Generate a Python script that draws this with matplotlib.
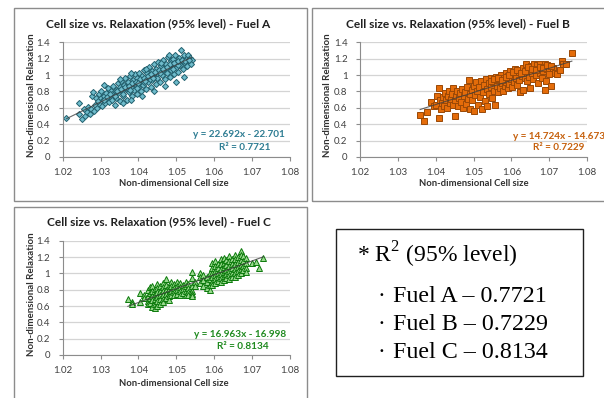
import matplotlib
matplotlib.use("Agg")
import matplotlib.pyplot as plt
import numpy as np
from matplotlib.patches import Rectangle

plt.rcParams.update({"font.family": ["Lato", "DejaVu Sans"],
                     "mathtext.fontset": "custom",
                     "mathtext.rm": "Liberation Serif"})

# ---------------------------------------------------------------------------
# Data
# ---------------------------------------------------------------------------
a_x = [1.0210, 1.0242, 1.0243, 1.0250, 1.0255, 1.0260, 1.0265, 1.0268, 1.0272, 1.0275,
       1.0278, 1.0280, 1.0282, 1.0285, 1.0288, 1.0290, 1.0293, 1.0295, 1.0298, 1.0300,
       1.0302, 1.0305, 1.0307, 1.0310, 1.0312, 1.0315, 1.0318, 1.0320, 1.0322, 1.0325,
       1.0327, 1.0330, 1.0332, 1.0335, 1.0337, 1.0340, 1.0342, 1.0345, 1.0347, 1.0350,
       1.0352, 1.0355, 1.0357, 1.0360, 1.0362, 1.0365, 1.0367, 1.0370, 1.0372, 1.0375,
       1.0377, 1.0380, 1.0382, 1.0385, 1.0387, 1.0390, 1.0392, 1.0395, 1.0397, 1.0400,
       1.0402, 1.0405, 1.0407, 1.0410, 1.0412, 1.0415, 1.0417, 1.0420, 1.0422, 1.0425,
       1.0427, 1.0430, 1.0432, 1.0435, 1.0437, 1.0440, 1.0442, 1.0445, 1.0447, 1.0450,
       1.0452, 1.0455, 1.0457, 1.0460, 1.0462, 1.0465, 1.0467, 1.0470, 1.0472, 1.0475,
       1.0477, 1.0480, 1.0482, 1.0485, 1.0487, 1.0490, 1.0492, 1.0495, 1.0497, 1.0500,
       1.0502, 1.0505, 1.0507, 1.0510, 1.0512, 1.0515, 1.0517, 1.0520, 1.0522, 1.0525,
       1.0528, 1.0530, 1.0533, 1.0536, 1.0540, 1.0538, 1.0340, 1.0360, 1.0380, 1.0410,
       1.0440, 1.0470, 1.0500, 1.0520, 1.0310, 1.0350, 1.0380, 1.0420, 1.0460, 1.0480,
       1.0330, 1.0370, 1.0400, 1.0430, 1.0450, 1.0490, 1.0505, 1.0395, 1.0415, 1.0435,
       1.0316, 1.0326, 1.0344, 1.0353, 1.0364, 1.0374, 1.0384, 1.0394, 1.0404, 1.0414,
       1.0424, 1.0434, 1.0444, 1.0454, 1.0464, 1.0474, 1.0484, 1.0494, 1.0504, 1.0514,
       1.0524, 1.0534, 1.0308, 1.0338, 1.0358, 1.0378, 1.0398, 1.0418, 1.0438, 1.0458]
a_y = [0.48, 0.66, 0.53, 0.46, 0.58, 0.50, 0.55, 0.61, 0.52, 0.59,
       0.75, 0.79, 0.56, 0.63, 0.72, 0.60, 0.68, 0.77, 0.64, 0.72,
       0.80, 0.62, 0.69, 0.75, 0.66, 0.78, 0.71, 0.84, 0.67, 0.74,
       0.80, 0.70, 0.87, 0.76, 0.63, 0.82, 0.72, 0.90, 0.78, 0.85,
       0.68, 0.93, 0.80, 0.74, 0.88, 0.96, 0.83, 0.70, 0.91, 0.79,
       0.99, 0.86, 0.74, 0.94, 0.82, 1.01, 0.89, 0.77, 0.97, 0.86,
       1.03, 0.92, 0.80, 0.99, 0.88, 1.06, 0.95, 0.83, 1.02, 0.91,
       1.10, 0.98, 0.86, 1.05, 0.94, 1.13, 1.01, 0.89, 1.08, 0.97,
       1.16, 1.04, 0.92, 1.11, 1.00, 1.19, 1.07, 0.95, 1.14, 1.03,
       1.22, 1.10, 0.98, 1.17, 1.06, 1.20, 1.13, 1.01, 1.24, 1.09,
       1.16, 1.04, 1.21, 1.12, 1.30, 1.18, 1.08, 1.24, 1.15, 1.20,
       1.11, 1.25, 1.17, 1.21, 1.19, 1.14, 0.79, 0.66, 0.70, 0.75,
       0.80, 0.87, 0.92, 0.98, 0.88, 0.95, 1.02, 1.08, 1.15, 1.24,
       0.77, 0.84, 0.90, 0.95, 1.02, 1.08, 1.12, 0.84, 0.92, 0.99,
       0.73, 0.77, 0.81, 0.83, 0.85, 0.87, 0.90, 0.92, 0.95, 0.97,
       0.99, 1.01, 1.04, 1.06, 1.08, 1.10, 1.13, 1.15, 1.17, 1.19,
       1.17, 1.19, 0.70, 0.74, 0.77, 0.82, 0.90, 0.93, 0.97, 1.02]

b_x = [1.0359, 1.0369, 1.0378, 1.0388, 1.0395, 1.0400, 1.0403, 1.0410, 1.0410, 1.0412,
       1.0415, 1.0418, 1.0420, 1.0423, 1.0425, 1.0428, 1.0430, 1.0432, 1.0435, 1.0437,
       1.0440, 1.0442, 1.0445, 1.0447, 1.0450, 1.0452, 1.0455, 1.0457, 1.0460, 1.0462,
       1.0465, 1.0467, 1.0470, 1.0472, 1.0475, 1.0477, 1.0480, 1.0482, 1.0485, 1.0487,
       1.0490, 1.0492, 1.0495, 1.0497, 1.0500, 1.0502, 1.0505, 1.0507, 1.0510, 1.0512,
       1.0515, 1.0517, 1.0520, 1.0522, 1.0525, 1.0527, 1.0530, 1.0532, 1.0535, 1.0537,
       1.0540, 1.0542, 1.0545, 1.0547, 1.0550, 1.0552, 1.0555, 1.0558, 1.0560, 1.0562,
       1.0565, 1.0567, 1.0570, 1.0572, 1.0575, 1.0577, 1.0580, 1.0582, 1.0585, 1.0587,
       1.0590, 1.0592, 1.0595, 1.0597, 1.0600, 1.0602, 1.0605, 1.0607, 1.0610, 1.0612,
       1.0615, 1.0617, 1.0620, 1.0622, 1.0625, 1.0627, 1.0630, 1.0632, 1.0635, 1.0637,
       1.0640, 1.0642, 1.0645, 1.0647, 1.0650, 1.0652, 1.0655, 1.0657, 1.0660, 1.0662,
       1.0665, 1.0667, 1.0670, 1.0672, 1.0675, 1.0677, 1.0680, 1.0682, 1.0685, 1.0688,
       1.0690, 1.0692, 1.0695, 1.0700, 1.0705, 1.0710, 1.0715, 1.0720, 1.0728, 1.0733,
       1.0736, 1.0745, 1.0760, 1.0545, 1.0555, 1.0565, 1.0575, 1.0585, 1.0595, 1.0605,
       1.0615, 1.0625, 1.0635, 1.0645, 1.0655, 1.0665, 1.0675, 1.0685, 1.0695, 1.0705]
b_y = [0.51, 0.44, 0.55, 0.67, 0.62, 0.64, 0.75, 0.48, 0.84, 0.70,
       0.58, 0.66, 0.73, 0.62, 0.78, 0.69, 0.60, 0.74, 0.80, 0.66,
       0.71, 0.77, 0.63, 0.84, 0.69, 0.50, 0.75, 0.80, 0.62, 0.72,
       0.78, 0.67, 0.83, 0.60, 0.74, 0.79, 0.65, 0.86, 0.71, 0.94,
       0.77, 0.58, 0.82, 0.69, 0.87, 0.56, 0.76, 0.91, 0.81, 0.64,
       0.86, 0.73, 0.93, 0.59, 0.79, 0.88, 0.68, 0.95, 0.83, 0.62,
       0.90, 0.77, 0.97, 0.85, 0.72, 0.92, 0.81, 0.64, 0.98, 0.87,
       0.79, 0.95, 0.84, 1.00, 0.90, 0.81, 0.97, 0.87, 1.02, 0.92,
       0.84, 0.99, 0.89, 1.05, 0.95, 0.86, 1.01, 0.92, 1.08, 0.97,
       0.88, 1.04, 0.94, 0.79, 1.06, 0.99, 0.82, 1.09, 0.96, 1.02,
       1.13, 0.93, 1.07, 0.98, 0.84, 1.11, 1.03, 0.95, 1.14, 1.06,
       1.00, 1.12, 0.90, 1.08, 1.03, 1.13, 0.97, 1.10, 1.05, 0.82,
       1.13, 0.93, 1.08, 1.01, 0.87, 1.09, 1.03, 1.01, 1.06, 1.17,
       1.14, 1.13, 1.27, 0.93, 0.95, 0.97, 0.94, 0.98, 1.00, 1.04,
       1.06, 1.02, 1.05, 1.10, 1.08, 1.06, 1.10, 1.09, 1.12, 1.11]

# Fuel C data sits in vertical stacks at discrete cell sizes
c_cols = [1.0372, 1.0382, 1.0405, 1.0415, 1.0425, 1.0430, 1.0437, 1.0443, 1.0450, 1.0457,
          1.0465, 1.0472, 1.0480, 1.0487, 1.0495, 1.0502, 1.0510, 1.0518, 1.0525, 1.0532,
          1.0540, 1.0550, 1.0562, 1.0570, 1.0580, 1.0588, 1.0595, 1.0602, 1.0610, 1.0617,
          1.0625, 1.0632, 1.0640, 1.0647, 1.0655, 1.0662, 1.0670, 1.0677, 1.0685, 1.0700,
          1.0710, 1.0718, 1.0730]
c_stacks = [[0.68], [0.65, 0.63], [0.65, 0.76], [0.74, 0.70], [0.80, 0.72, 0.66, 0.62],
            [0.83, 0.76, 0.70, 0.64], [0.85, 0.78, 0.72, 0.67, 0.59], [0.81, 0.75, 0.69, 0.62, 0.58],
            [0.87, 0.82, 0.77, 0.71, 0.66, 0.60], [0.84, 0.79, 0.73, 0.68, 0.63],
            [0.88, 0.83, 0.78, 0.74, 0.69, 0.65], [0.93, 0.86, 0.80, 0.75, 0.70],
            [0.85, 0.81, 0.76, 0.72, 0.67], [0.89, 0.84, 0.79, 0.74], [0.87, 0.82, 0.77, 0.73],
            [0.90, 0.85, 0.80, 0.75], [0.88, 0.83, 0.78, 0.74], [0.86, 0.81, 0.76],
            [0.89, 0.84, 0.79, 0.74], [0.87, 0.82, 0.77, 0.73], [1.02, 0.94, 0.85, 0.79, 0.75, 0.72],
            [0.90, 0.85], [1.01, 0.95, 0.88], [0.98, 0.92, 0.85], [0.95, 0.89, 0.82],
            [1.00, 0.93, 0.86, 0.80], [1.13, 1.07, 1.00, 0.95, 0.90, 0.86],
            [1.15, 1.09, 1.03, 0.98, 0.93, 0.88], [1.12, 1.06, 1.01, 0.96, 0.91],
            [1.17, 1.11, 1.05, 0.99, 0.94, 0.89], [1.19, 1.13, 1.08, 1.02, 0.97, 0.92],
            [1.16, 1.10, 1.04, 0.99, 0.94], [1.21, 1.15, 1.09, 1.03, 0.98, 0.93],
            [1.18, 1.12, 1.06, 1.01, 0.96], [1.23, 1.17, 1.11, 1.05, 1.00, 0.96],
            [1.20, 1.14, 1.08, 1.03, 0.98], [1.27, 1.22, 1.16, 1.10, 1.05, 1.00],
            [1.21, 1.15, 1.09, 1.04], [1.19, 1.13, 1.07, 1.02], [1.13], [1.14], [1.07], [1.19]]
c_x = [x for x, ys in zip(c_cols, c_stacks) for _ in ys]
c_y = [y for ys in c_stacks for y in ys]

# trendline coefficients as printed on the chart
slopes = [22.692, 14.724, 16.963]
intercepts = [-22.701, -14.673, -16.998]
r2 = [0.7721, 0.7229, 0.8134]
fuels = ["A", "B", "C"]

x_ticks = [1.02, 1.03, 1.04, 1.05, 1.06, 1.07, 1.08]
y_ticks = [0, 0.2, 0.4, 0.6, 0.8, 1, 1.2, 1.4]

W, H = 604, 398
fig = plt.figure(figsize=(W / 100, H / 100), dpi=100)


def px(x0, y0, w, h):
    # pixel box (top-left origin) -> figure fraction rect
    return [x0 / W, 1 - (y0 + h) / H, w / W, h / H]


# panel frames
frame_col = "#8c8c8c"
for (x0, y0, w, h) in [(14, 8, 293, 193), (312, 8, 300, 193), (14, 207, 293, 200)]:
    fig.patches.append(Rectangle((x0 / W, 1 - (y0 + h) / H), w / W, h / H,
                                 transform=fig.transFigure, fill=False,
                                 edgecolor=frame_col, lw=1.0))

panels = [
    dict(rect=(62.7, 42.3, 227.3, 114.7), x=a_x, y=a_y, marker="D", ms=3.1,
         face="#6fbccc", edge="#22606e", txt="#2f7d93",
         eq_xy=(1.0787, 0.27), r2_xy=(1.0681, 0.12), eq_ha="right",
         title_xy=(158, 24), xl_xy=(174, 184), yl_xy=(31, 95)),
    dict(rect=(360, 42.3, 227, 114.7), x=b_x, y=b_y, marker="s", ms=4.4,
         face="#e46c0a", edge="#9a4806", txt="#c6600c",
         eq_xy=(1.0604, 0.245), r2_xy=(1.0726, 0.11), eq_ha="left",
         title_xy=(458, 24), xl_xy=(474, 184), yl_xy=(328, 95)),
    dict(rect=(62.7, 240.7, 227.3, 114.3), x=c_x, y=c_y, marker="^", ms=4.3,
         face="#9ad98f", edge="#0b7a0b", txt="#1f8a1f",
         eq_xy=(1.0790, 0.257), r2_xy=(1.0675, 0.10), eq_ha="right",
         title_xy=(159, 222), xl_xy=(174, 383), yl_xy=(31, 294)),
]

for i, p in enumerate(panels):
    ax = fig.add_axes(px(*p["rect"]))
    ax.set_xlim(1.02, 1.08)
    ax.set_ylim(0, 1.4)
    ax.set_xticks(x_ticks)
    ax.set_xticklabels([f"{t:.2f}" for t in x_ticks])
    ax.set_yticks(y_ticks)
    ax.set_yticklabels(["0", "0.2", "0.4", "0.6", "0.8", "1", "1.2", "1.4"])
    ax.tick_params(length=3, width=0.8, color="#8c8c8c", labelsize=7.0,
                   labelcolor="#404040")
    ax.tick_params(axis="y", pad=6)
    ax.tick_params(axis="x", pad=5)
    ax.yaxis.grid(True, color="#d4d4d4", lw=0.9)
    ax.set_axisbelow(True)
    for s in ["top", "right"]:
        ax.spines[s].set_visible(False)
    for s in ["left", "bottom"]:
        ax.spines[s].set_color("#8c8c8c")
        ax.spines[s].set_linewidth(0.8)

    ax.plot(p["x"], p["y"], ls="none", marker=p["marker"], ms=p["ms"],
            mfc=p["face"], mec=p["edge"], mew=0.7, clip_on=False)

    xs = np.array([min(p["x"]), max(p["x"])])
    ax.plot(xs, slopes[i] * xs + intercepts[i], color="#404040", lw=0.8, alpha=0.8)

    sign = "-" if intercepts[i] < 0 else "+"
    ax.text(*p["eq_xy"], f"y = {slopes[i]:.3f}x {sign} {abs(intercepts[i]):.3f}",
            ha=p["eq_ha"], va="center", fontsize=7.2, fontweight="bold",
            color=p["txt"], clip_on=False)
    ax.text(*p["r2_xy"], f"R² = {r2[i]:.4f}", ha="center", va="center",
            fontsize=7.2, fontweight="bold", color=p["txt"], clip_on=False)

    tx, ty = p["title_xy"]
    fig.text(tx / W, 1 - ty / H, f"Cell size vs. Relaxation (95% level) - Fuel {fuels[i]}",
             ha="center", va="center", fontsize=8.6, fontweight="bold", color="#202020")
    lx, ly = p["xl_xy"]
    fig.text(lx / W, 1 - ly / H, "Non-dimensional Cell size", ha="center", va="center",
             fontsize=6.8, fontweight="bold", color="#303030")
    yx, yy = p["yl_xy"]
    fig.text(yx / W, 1 - yy / H, "Non-dimensional Relaxation", ha="center", va="center",
             rotation=90, fontsize=7.0, fontweight="bold", color="#303030")

# R² summary box
fig.patches.append(Rectangle((336 / W, 1 - 376 / H), 247 / W, 147 / H,
                             transform=fig.transFigure, fill=False,
                             edgecolor="#202020", lw=1.0))
serif = ["Liberation Serif", "DejaVu Serif"]
fig.text(357 / W, 1 - 263 / H, r"* R$^{\mathrm{2}}$ (95% level)", ha="left", va="baseline",
         fontsize=17, family=serif, color="black")
for k, (f, v) in enumerate(zip(fuels, r2)):
    yb = [302, 330, 358][k]
    fig.text(377 / W, 1 - yb / H, "·", ha="left", va="baseline",
             fontsize=17, family=serif, color="black")
    fig.text(393 / W, 1 - yb / H, f"Fuel {f} – {v:.4f}", ha="left", va="baseline",
             fontsize=17.3, family=serif, color="black")

fig.savefig("out.png", dpi=100)
